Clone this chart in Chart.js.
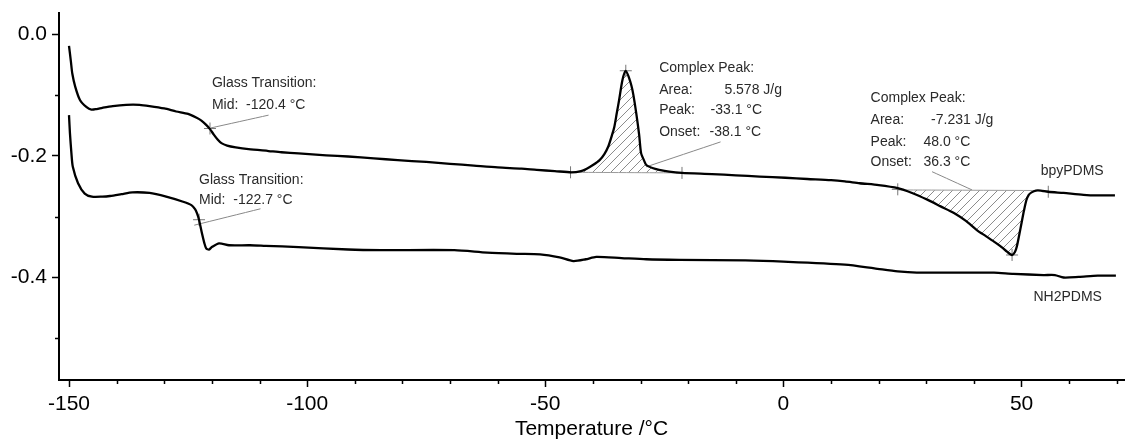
<!DOCTYPE html>
<html>
<head>
<meta charset="utf-8">
<script src="https://cdn.jsdelivr.net/npm/chart.js@4.4.1/dist/chart.umd.min.js"></script>
<style>
  html, body { margin: 0; padding: 0; background: #fff; }
  #wrap { width: 1131px; height: 442px; }
</style>
</head>
<body>
<div id="wrap"><canvas id="dsc"></canvas></div>
<script>
// DSC heat flow traces
var bpyTemp = [-150.0, -149.6, -149.3, -148.7, -147.7, -146.3, -145.3, -144.2, -143.0, -140.8, -138.0, -135.2, -133.1, -130.0,
  -127.5, -125.0, -123.3, -122.2, -121.2, -120.4, -119.6, -118.8, -118.0, -116.8, -115.0, -112.3, -108.1, -105.4, -101.8,
  -96, -91.4, -86, -81, -75, -70, -65, -60, -55, -51.8, -48, -44.5, -42.5, -41.3, -40.0, -38.6, -37.6, -36.8, -36.0,
  -35.5, -35.0, -34.5, -33.8, -33.1, -32.4, -31.9, -31.5, -30.9, -30.3, -29.9, -29.3, -28.8, -27.5, -26.1, -24, -21.3,
  -15, -10, -5, 0.4, 5, 10, 12.9, 16, 20, 24, 27, 30.2, 33, 35.8, 38.3, 40.6, 42.5, 44.2, 45.8, 47, 48, 48.6, 49, 49.5,
  50, 50.5, 51, 51.5, 52.1, 53, 54, 55.6, 58.8, 63, 66, 69.6];
var bpyFlow = [-0.019, -0.045, -0.065, -0.086, -0.108, -0.120, -0.124, -0.123, -0.121, -0.118, -0.116, -0.116, -0.118, -0.122,
  -0.127, -0.131, -0.137, -0.142, -0.149, -0.156, -0.165, -0.173, -0.179, -0.183, -0.186, -0.189, -0.192, -0.194, -0.196,
  -0.199, -0.201, -0.204, -0.207, -0.210, -0.213, -0.216, -0.219, -0.221, -0.223, -0.225, -0.227, -0.225, -0.221, -0.215,
  -0.207, -0.197, -0.185, -0.166, -0.152, -0.130, -0.108, -0.075, -0.060, -0.072, -0.085, -0.100, -0.130, -0.165, -0.195,
  -0.207, -0.215, -0.220, -0.223, -0.226, -0.228, -0.230, -0.232, -0.234, -0.236, -0.238, -0.240, -0.242, -0.245, -0.248,
  -0.253, -0.261, -0.272, -0.283, -0.294, -0.307, -0.322, -0.332, -0.341, -0.350, -0.358, -0.363, -0.358, -0.349, -0.330,
  -0.310, -0.290, -0.273, -0.264, -0.260, -0.257, -0.257, -0.259, -0.261, -0.264, -0.265, -0.265];

var nh2Temp = [-150.0, -149.8, -149.5, -149.2, -148.1, -146.7, -145.2, -143.0, -141.4, -139.0, -136.7, -133.1, -129.6, -126.2,
  -124.3, -123.5, -123.1, -122.7, -122.1, -121.6, -121.2, -120.6, -120.0, -118.5, -116.4, -112.0, -108.7, -101.8, -91.4,
  -84.5, -69.1, -62.2, -56, -51.1, -47, -44.1, -41.5, -39.3, -34, -28.8, -21.9, -8, 0, 12.9, 19.1, 24, 28, 40, 44.2, 48.3,
  54.6, 57, 58.8, 62, 66, 69.8];
var nh2Flow = [-0.133, -0.163, -0.195, -0.218, -0.245, -0.262, -0.267, -0.267, -0.266, -0.263, -0.260, -0.261, -0.267, -0.275,
  -0.281, -0.288, -0.295, -0.305, -0.327, -0.343, -0.352, -0.354, -0.350, -0.344, -0.347, -0.347, -0.348, -0.350, -0.354,
  -0.355, -0.355, -0.359, -0.361, -0.362, -0.367, -0.373, -0.370, -0.366, -0.368, -0.370, -0.371, -0.372, -0.374, -0.379,
  -0.385, -0.390, -0.392, -0.392, -0.392, -0.394, -0.396, -0.396, -0.400, -0.399, -0.397, -0.397];

var xLabelTicks = [-150, -100, -50, 0, 50];
var xMinorTicks = [-140, -130, -120, -110, -90, -80, -70, -60, -40, -30, -20, -10, 10, 20, 30, 40, 60, 70];
var yLabelTicks = [0, -0.2, -0.4];
var yMinorTicks = [-0.1, -0.3, -0.5];

// integration limits and baselines of the two peaks
var peak1Limits = [-44.7, -21.3];
var peak1Baseline = [-0.227, -0.228];
var peak2Limits = [24.0, 55.6];
var peak2Baseline = [-0.256, -0.257];

// "+" marks at limits, peak tips and glass transition midpoints
var markTemp = [-44.7, -21.3, -33.1, 24.0, 55.6, 48.0, -120.4, -122.7];
var markFlow = [-0.227, -0.228, -0.060, -0.255, -0.259, -0.363, -0.155, -0.305];

// thin leader lines from the notes to the curves: [t1, v1, t2, v2]
var leaders = [
  [-120.2, -0.154, -108.1, -0.133],
  [-123.7, -0.314, -109.8, -0.287],
  [-28.8, -0.218, -13.2, -0.177],
  [31.2, -0.226, 39.6, -0.256]
];

// notes: [text, temperature, heat flow]
var notes = [
  ['Glass Transition:', -120.0, -0.080],
  ['Mid:  -120.4 \u00b0C', -120.0, -0.1163],
  ['Glass Transition:', -122.7, -0.2396],
  ['Mid:  -122.7 \u00b0C', -122.7, -0.2725],
  ['Complex Peak:', -26.1, -0.0554],
  ['Area:', -26.1, -0.0916], ['5.578 J/g', -12.4, -0.0916],
  ['Peak:', -26.1, -0.1245], ['-33.1 \u00b0C', -15.3, -0.1245],
  ['Onset:', -26.1, -0.1607], ['-38.1 \u00b0C', -15.5, -0.1607],
  ['Complex Peak:', 18.3, -0.1048],
  ['Area:', 18.3, -0.1410], ['-7.231 J/g', 31.0, -0.1410],
  ['Peak:', 18.3, -0.1771], ['48.0 \u00b0C', 29.4, -0.1771],
  ['Onset:', 18.3, -0.2100], ['36.3 \u00b0C', 29.4, -0.2100],
  ['bpyPDMS', 54.0, -0.2248],
  ['NH2PDMS', 52.5, -0.4321]
];

function toPoints(ts, vs) {
  return ts.map(function(t, i) { return {x: t, y: vs[i]}; });
}

var bpyPts = toPoints(bpyTemp, bpyFlow);
var nh2Pts = toPoints(nh2Temp, nh2Flow);
var area1 = bpyPts.filter(function(p) { return p.x >= peak1Limits[0] && p.x <= peak1Limits[1]; });
var area2 = bpyPts.filter(function(p) { return p.x >= peak2Limits[0] && p.x <= peak2Limits[1]; });

// diagonal hatching for the peak areas
var hatch = document.createElement('canvas');
hatch.width = 9; hatch.height = 9;
var hc = hatch.getContext('2d');
hc.strokeStyle = '#8c8c8c';
hc.lineWidth = 1;
hc.beginPath();
hc.moveTo(0, 9); hc.lineTo(9, 0);
hc.moveTo(-1, 1); hc.lineTo(1, -1);
hc.moveTo(8, 10); hc.lineTo(10, 8);
hc.stroke();
var hatchPattern = hc.createPattern(hatch, 'repeat');

var FONT = '"Liberation Sans", Arial, sans-serif';

var datasets = [
  {data: bpyPts, borderColor: '#000', borderWidth: 2.3, pointRadius: 0, order: 0},
  {data: nh2Pts, borderColor: '#000', borderWidth: 2.3, pointRadius: 0, order: 0},
  {data: toPoints(peak1Limits, peak1Baseline), borderColor: '#9a9a9a', borderWidth: 1, pointRadius: 0, order: 2},
  {data: toPoints(peak2Limits, peak2Baseline), borderColor: '#9a9a9a', borderWidth: 1, pointRadius: 0, order: 2},
  {data: area1, borderWidth: 0, pointRadius: 0, fill: 2, backgroundColor: hatchPattern, order: 3},
  {data: area2, borderWidth: 0, pointRadius: 0, fill: 3, backgroundColor: hatchPattern, order: 3},
  {data: toPoints(markTemp, markFlow), showLine: false, pointStyle: 'cross', pointRadius: 6,
    borderColor: '#777', borderWidth: 1, order: 1}
];
leaders.forEach(function(l) {
  datasets.push({data: [{x: l[0], y: l[1]}, {x: l[2], y: l[3]}], borderColor: '#888',
    borderWidth: 1, pointRadius: 0, order: 1});
});

var extras = {
  id: 'extras',
  afterDraw: function(chart) {
    var ctx = chart.ctx, xs = chart.scales.x, ys = chart.scales.y;
    ctx.save();
    // minor ticks
    ctx.strokeStyle = '#000';
    ctx.lineWidth = 1.5;
    ctx.beginPath();
    xMinorTicks.forEach(function(t) {
      var px = Math.round(xs.getPixelForValue(t)) + 0.5;
      ctx.moveTo(px, ys.bottom); ctx.lineTo(px, ys.bottom + 4);
    });
    yMinorTicks.forEach(function(v) {
      var py = Math.round(ys.getPixelForValue(v)) + 0.5;
      ctx.moveTo(xs.left - 4, py); ctx.lineTo(xs.left, py);
    });
    ctx.stroke();
    // notes
    ctx.fillStyle = '#2a2a2a';
    ctx.font = '14px ' + FONT;
    ctx.textAlign = 'left';
    ctx.textBaseline = 'middle';
    notes.forEach(function(n) {
      ctx.fillText(n[0], xs.getPixelForValue(n[1]), ys.getPixelForValue(n[2]));
    });
    ctx.restore();
  }
};

new Chart(document.getElementById('dsc'), {
  type: 'line',
  data: {datasets: datasets},
  plugins: [extras],
  options: {
    responsive: true,
    maintainAspectRatio: false,
    animation: false,
    layout: {padding: {top: 13, right: 0, bottom: 0, left: 0}},
    plugins: {legend: {display: false}, tooltip: {enabled: false}},
    elements: {line: {tension: 0.25}},
    scales: {
      x: {
        type: 'linear',
        min: -152.1,
        max: 71.5,
        afterBuildTicks: function(s) { s.ticks = xLabelTicks.map(function(v) { return {value: v}; }); },
        afterFit: function(s) { s.height = 62; s.paddingLeft = 0; s.paddingRight = 0; },
        ticks: {color: '#000', font: {family: FONT, size: 21}, padding: 5, maxRotation: 0,
          callback: function(v) { return String(v); }},
        grid: {drawOnChartArea: false, tickLength: 7, tickColor: '#000', tickWidth: 1.5},
        border: {color: '#000', width: 2},
        title: {display: true, text: 'Temperature /\u00b0C', color: '#000',
          font: {family: FONT, size: 21}, padding: {top: 0, bottom: 0}}
      },
      y: {
        type: 'linear',
        min: -0.5686,
        max: 0.035,
        afterBuildTicks: function(s) { s.ticks = yLabelTicks.map(function(v) { return {value: v}; }); },
        afterFit: function(s) { s.width = 59; s.paddingTop = 0; s.paddingBottom = 0; },
        ticks: {color: '#000', font: {family: FONT, size: 21}, padding: 5,
          callback: function(v) { return v.toFixed(1); }},
        grid: {drawOnChartArea: false, tickLength: 7, tickColor: '#000', tickWidth: 1.5},
        border: {color: '#000', width: 2}
      }
    }
  }
});
</script>
</body>
</html>
